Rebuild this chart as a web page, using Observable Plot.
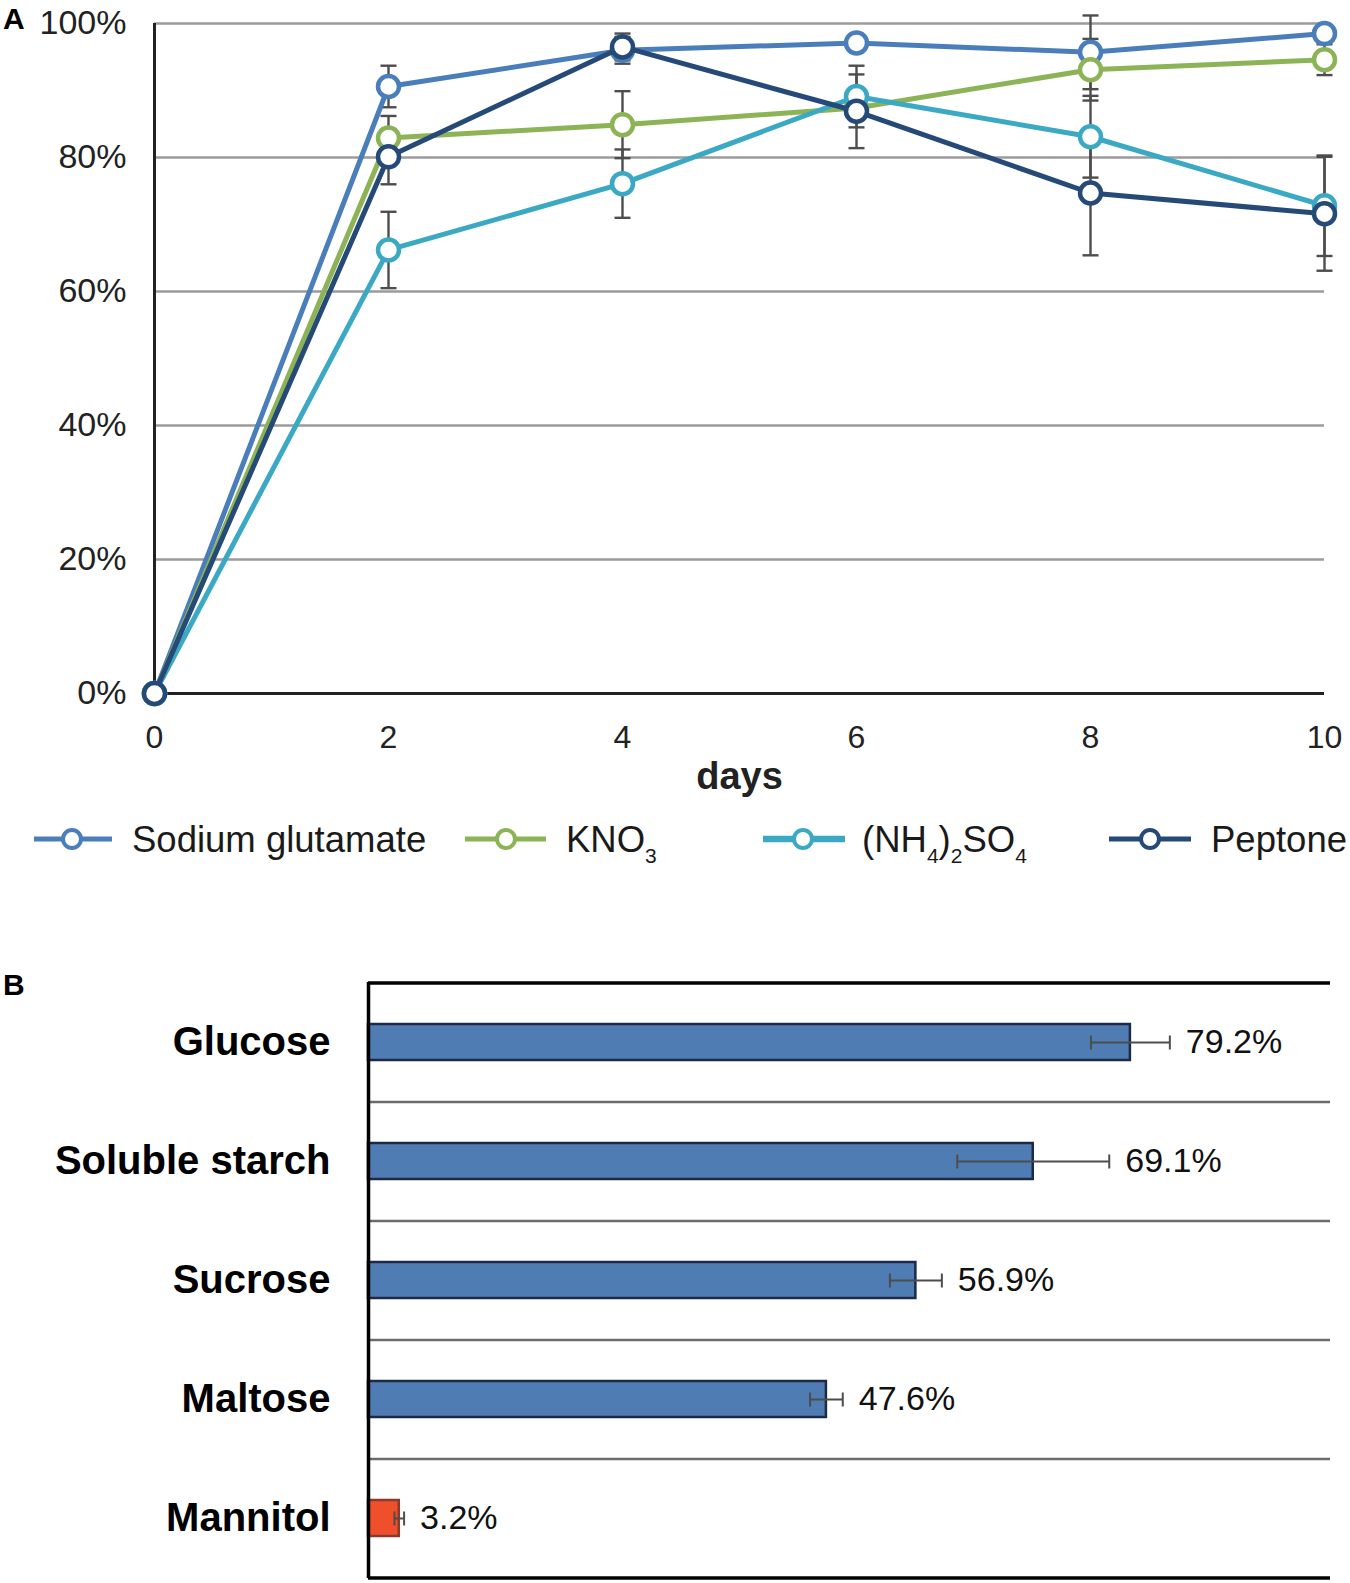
<!DOCTYPE html>
<html>
<head>
<meta charset="utf-8">
<script src="https://cdn.jsdelivr.net/npm/d3@7"></script>
<script src="https://cdn.jsdelivr.net/npm/@observablehq/plot@0.6"></script>
<style>
  body { margin: 0; background: #fff; }
  #wrap { position: relative; width: 1350px; height: 1583px; overflow: hidden;
          font-family: "Liberation Sans", Arial, sans-serif; color: #1a1a1a; background: #fff; }
  .slot { position: absolute; left: 0; }
  .panel { position: absolute; left: 3px; font-weight: bold; font-size: 30px; line-height: 1; color: #000; }
  .legtext { position: absolute; font-size: 36.5px; line-height: 1; white-space: nowrap; color: #1a1a1a; }
  .legtext sub { font-size: 21px; position: relative; top: 11px; vertical-align: baseline; }
  .legsym { position: absolute; overflow: visible; }
  #plotA g[aria-label="x-axis tick label"] { font-size: 32px; }
</style>
</head>
<body>
<div id="wrap">
  <div class="slot" id="plotA" style="top:0"></div>
  <div class="panel" style="top:4px">A</div>
  <div id="legend"></div>
  <div class="slot" id="plotB" style="top:940px"></div>
  <div class="panel" style="top:970px">B</div>
</div>
<script>
// ---------- Panel A data ----------
const days = [0, 2, 4, 6, 8, 10];
const seriesNames = ["Sodium glutamate", "KNO3", "(NH4)2SO4", "Peptone"];
const seriesLabelsHtml = ["Sodium glutamate", "KNO<sub>3</sub>", "(NH<sub>4</sub>)<sub>2</sub>SO<sub>4</sub>", "Peptone"];
const seriesColors = ["#4a7ebb", "#8cb456", "#3ba9c3", "#264a78"];
const sodiumGlutamate = [0, 90.6, 96.0, 97.1, 95.7, 98.5];
const kno3 = [0, 82.9, 84.9, 87.4, 93.1, 94.6];
const ammoniumSulfate = [0, 66.2, 76.1, 89.1, 83.1, 72.8];
const peptone = [0, 80.1, 96.5, 86.9, 74.7, 71.6];
const sodiumGlutamateErr = [0, 3.1, 2.0, 0.8, 5.5, 0.8];
const kno3Err = [0, 3.3, 5.0, 0.8, 4.6, 2.3];
const ammoniumSulfateErr = [0, 5.7, 5.1, 4.6, 6.1, 7.5];
const peptoneErr = [0, 4.1, 2.0, 5.5, 9.3, 8.5];
const yTicks = [0, 20, 40, 60, 80, 100];

// ---------- Panel B data ----------
const sugars = ["Glucose", "Soluble starch", "Sucrose", "Maltose", "Mannitol"];
const sugarValues = [79.2, 69.1, 56.9, 47.6, 3.2];
const sugarErr = [4.1, 7.9, 2.7, 1.7, 0.5];
const highlightSugar = "Mannitol";

// ---------- build tables ----------
const valueSets = [sodiumGlutamate, kno3, ammoniumSulfate, peptone];
const errSets = [sodiumGlutamateErr, kno3Err, ammoniumSulfateErr, peptoneErr];
const rowsA = [];
seriesNames.forEach((s, k) => days.forEach((d, i) => rowsA.push({
  series: s, day: d, value: valueSets[k][i],
  lo: valueSets[k][i] - errSets[k][i], hi: valueSets[k][i] + errSets[k][i], err: errSets[k][i]
})));
const errRowsA = rowsA.filter(r => r.err > 0);

const rowsB = sugars.map((n, i) => ({name: n, value: sugarValues[i],
  lo: sugarValues[i] - sugarErr[i], hi: sugarValues[i] + sugarErr[i]}));

const hcap = {draw(ctx, size) { const r = Math.sqrt(size / Math.PI); ctx.moveTo(-r, 0); ctx.lineTo(r, 0); }};
const vcap = {draw(ctx, size) { const r = Math.sqrt(size / Math.PI); ctx.moveTo(0, -r); ctx.lineTo(0, r); }};

const font = "'Liberation Sans', Arial, sans-serif";
const errColor = "#4d4d4d";

// ---------- Panel A ----------
const seriesMarks = [];
seriesNames.forEach(s => {
  const rows = rowsA.filter(r => r.series === s);
  seriesMarks.push(Plot.line(rows, {x: "day", y: "value", stroke: "series", strokeWidth: 5}));
  seriesMarks.push(Plot.dot(rows, {x: "day", y: "value", stroke: "series", fill: "#fff", r: 10.5, strokeWidth: 4.5}));
});

const plotA = Plot.plot({
  width: 1350, height: 800,
  marginTop: 23, marginBottom: 107, marginLeft: 154, marginRight: 26,
  style: {fontFamily: font, fontSize: "34px", color: "#222", background: "transparent", overflow: "visible"},
  x: {domain: [0, 10], ticks: days, tickSize: 0, tickPadding: 32, label: null},
  y: {domain: [0, 100], ticks: yTicks, tickFormat: d => d + "%", tickSize: 0, tickPadding: 28, label: null},
  color: {domain: seriesNames, range: seriesColors},
  marks: [
    Plot.ruleY(yTicks.filter(t => t > 0), {stroke: "#9b9b9b", strokeWidth: 2.5}),
    Plot.ruleY([0], {stroke: "#222", strokeWidth: 3}),
    Plot.ruleX([0], {stroke: "#222", strokeWidth: 3}),
    Plot.ruleX(errRowsA, {x: "day", y1: "lo", y2: "hi", stroke: errColor, strokeWidth: 2.4}),
    Plot.dot(errRowsA, {x: "day", y: "lo", symbol: hcap, r: 8, stroke: errColor, fill: "none", strokeWidth: 2.4}),
    Plot.dot(errRowsA, {x: "day", y: "hi", symbol: hcap, r: 8, stroke: errColor, fill: "none", strokeWidth: 2.4}),
    ...seriesMarks,
    Plot.text(["days"], {frameAnchor: "bottom", dy: 95, text: d => d, fontSize: 38, fontWeight: "bold", fill: "#222"})
  ]
});
document.getElementById("plotA").appendChild(plotA);

// ---------- Legend ----------
const legendItems = [
  {x1: 34, x2: 112, cx: 72, tx: 132, w: 5},
  {x1: 465, x2: 546, cx: 506, tx: 566, w: 5},
  {x1: 763, x2: 845, cx: 803, tx: 862, w: 6.5},
  {x1: 1109, x2: 1191, cx: 1150, tx: 1211, w: 5}
];
const legendY = 839;
const leg = document.getElementById("legend");
seriesNames.forEach((s, i) => {
  const it = legendItems[i];
  const svg = d3.create("svg").attr("class", "legsym")
    .attr("width", it.x2 - it.x1 + 20).attr("height", 30)
    .style("left", (it.x1 - 10) + "px").style("top", (legendY - 15) + "px");
  svg.append("line").attr("x1", 10).attr("x2", it.x2 - it.x1 + 10).attr("y1", 15).attr("y2", 15)
    .attr("stroke", seriesColors[i]).attr("stroke-width", it.w);
  svg.append("circle").attr("cx", it.cx - it.x1 + 10).attr("cy", 15).attr("r", 9)
    .attr("fill", "#fff").attr("stroke", seriesColors[i]).attr("stroke-width", 4);
  leg.appendChild(svg.node());
  const t = document.createElement("div");
  t.className = "legtext";
  t.style.left = it.tx + "px";
  t.style.top = (legendY - 17) + "px";
  t.innerHTML = seriesLabelsHtml[i];
  leg.appendChild(t);
});

// ---------- Panel B ----------
const halfStep = 59.6;
const plotB = Plot.plot({
  width: 1350, height: 643,
  marginTop: 42, marginBottom: 5, marginLeft: 368, marginRight: 20,
  style: {fontFamily: font, fontSize: "40px", fontWeight: "bold", color: "#000", background: "transparent", overflow: "visible"},
  x: {domain: [0, 100], axis: null},
  y: {domain: sugars, paddingInner: 0.7, paddingOuter: 0.35, tickSize: 0, tickPadding: 38, label: null},
  marks: [
    Plot.ruleY(sugars.slice(1), {dy: -halfStep, stroke: "#6b6b6b", strokeWidth: 2.5}),
    Plot.ruleY(sugars.slice(0, 1), {dy: -halfStep, stroke: "#000", strokeWidth: 3.5}),
    Plot.ruleY(sugars.slice(-1), {dy: halfStep, stroke: "#000", strokeWidth: 3.5}),
    Plot.barX(rowsB.filter(d => d.name !== highlightSugar), {y: "name", x: "value", fill: "#4f7cb3", stroke: "#1c2a48", strokeWidth: 2.5}),
    Plot.barX(rowsB.filter(d => d.name === highlightSugar), {y: "name", x: "value", fill: "#ef4f2a", stroke: "#8a3a2c", strokeWidth: 2.5}),
    Plot.ruleX([0], {stroke: "#000", strokeWidth: 3.5}),
    Plot.ruleY(rowsB, {y: "name", x1: "lo", x2: "hi", stroke: errColor, strokeWidth: 2}),
    Plot.dot(rowsB, {y: "name", x: "lo", symbol: vcap, r: 7, stroke: errColor, fill: "none", strokeWidth: 2}),
    Plot.dot(rowsB, {y: "name", x: "hi", symbol: vcap, r: 7, stroke: errColor, fill: "none", strokeWidth: 2}),
    Plot.text(rowsB, {y: "name", x: "hi", text: d => d.value.toFixed(1) + "%", dx: 16, textAnchor: "start",
      fontSize: 34, fontWeight: "normal", fill: "#111"})
  ]
});
document.getElementById("plotB").appendChild(plotB);
</script>
</body>
</html>
